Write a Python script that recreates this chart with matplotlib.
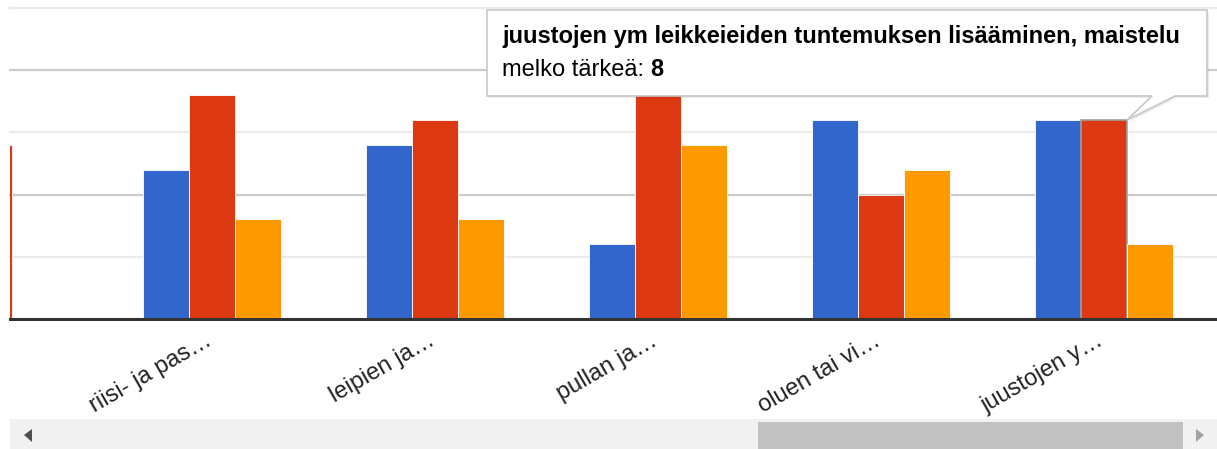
import numpy as np
import matplotlib
matplotlib.use("Agg")
from matplotlib import pyplot as plt
from matplotlib.patches import Rectangle, Polygon
from matplotlib.transforms import blended_transform_factory

plt.rcParams["font.family"] = ["Liberation Sans", "DejaVu Sans"]

# chart is scrolled: the first group sits mostly left of the visible area
categories = ["", "riisi- ja pas…", "leipien ja…", "pullan ja…", "oluen tai vi…", "juustojen y…"]
series_names = ["erittäin tärkeä", "melko tärkeä", "ei kovin tärkeä"]
blue = [np.nan, 6, 7, 3, 8, 8]
red = [7, 9, 8, 9, 5, 8]
orange = [0, 4, 4, 7, 6, 3]
colors = ["#3366cc", "#dc3912", "#ff9900"]

tooltip_title = "juustojen ym leikkeieiden tuntemuksen lisääminen, maistelu"
hover_group = 5
hover_series = 1

W, H = 1217, 449
PITCH = 223  # pixels per category
fig = plt.figure(figsize=(W / 100, H / 100), dpi=100)

# main plot area in pixel terms: left 10, baseline 319, top gridline 8
ax = fig.add_axes([10 / W, (H - 319) / H, (W - 10) / W, (319 - 8) / H])
x = np.arange(len(categories))
bw = 46 / PITCH
x0 = 21 / PITCH
ax.set_xlim(x0, x0 + (W - 10) / PITCH)
ax.set_ylim(0, 12.5)

for y in [2.5, 7.5, 12.5]:
    ax.axhline(y, color="#ebebeb", lw=1.6, zorder=0, clip_on=False)
for y in [5, 10]:
    ax.axhline(y, color="#cccccc", lw=1.6, zorder=0, clip_on=False)

bars = []
for i, vals in enumerate([blue, red, orange]):
    b = ax.bar(x + (i - 1) * bw, vals, width=bw, color=colors[i],
               edgecolor="white", linewidth=0.6, zorder=2, label=series_names[i])
    bars.append(b)

hb = bars[hover_series][hover_group]
hb.set_edgecolor("#a0a0a0")
hb.set_linewidth(1.2)

ax.axhline(0, color="#333333", lw=2.2, zorder=3, clip_on=False)

for s in ax.spines.values():
    s.set_visible(False)
ax.set_xticks([])
ax.set_yticks([])

trans = blended_transform_factory(ax.transData, ax.transAxes)
for xi, lab in zip(x, categories):
    ax.text(xi - 0.01, -20 / 311, lab, transform=trans, rotation=30,
            rotation_mode="anchor", ha="right", va="center",
            fontsize=17, color="#222222", clip_on=False)

# overlay in pixel coordinates for tooltip and scrollbar
ov = fig.add_axes([0, 0, 1, 1], zorder=5)
ov.set_xlim(0, W)
ov.set_ylim(H, 0)
ov.axis("off")

# scrollbar
ov.add_patch(Rectangle((10, 419), W - 10, 30, color="#f1f1f1", lw=0))
ov.add_patch(Rectangle((758, 422), 1183 - 758, 27, color="#c1c1c1", lw=0))
ov.add_patch(Polygon([(24, 435), (32, 429), (32, 442)], color="#505050", lw=0))
ov.add_patch(Polygon([(1204, 435), (1196, 429), (1196, 442)], color="#a3a3a3", lw=0))

# tooltip anchored to hovered bar top-right
fig.canvas.draw()
tip_disp = ax.transData.transform((hb.get_x() + hb.get_width(), hb.get_height()))
tip = ov.transData.inverted().transform(tip_disp)
bx0, by0, bx1, by1 = 487, 10, 1207, 96
pts = [(bx0, by0), (bx1, by0), (bx1, by1), (1175, by1), (tip[0], tip[1]),
       (1152, by1), (bx0, by1)]
shadow = [(px + 2, py + 2) for px, py in pts]
ov.add_patch(Polygon(shadow, closed=True, facecolor="#000000", alpha=0.08, lw=0))
ov.add_patch(Polygon(pts, closed=True, facecolor="white", edgecolor="#c8c8c8", lw=1.2))

ov.text(502, 37, tooltip_title, fontsize=17, fontweight="bold",
        color="#000000", va="center", ha="left")
t2 = ov.text(502, 70, series_names[hover_series] + ": ", fontsize=17,
             color="#000000", va="center", ha="left")
fig.canvas.draw()
ext = t2.get_window_extent()
x_end = ov.transData.inverted().transform((ext.x1, ext.y0))[0]
ov.text(x_end, 70, f"{red[hover_group]}", fontsize=17, fontweight="bold",
        color="#000000", va="center", ha="left")

fig.savefig("out.png", dpi=100)
